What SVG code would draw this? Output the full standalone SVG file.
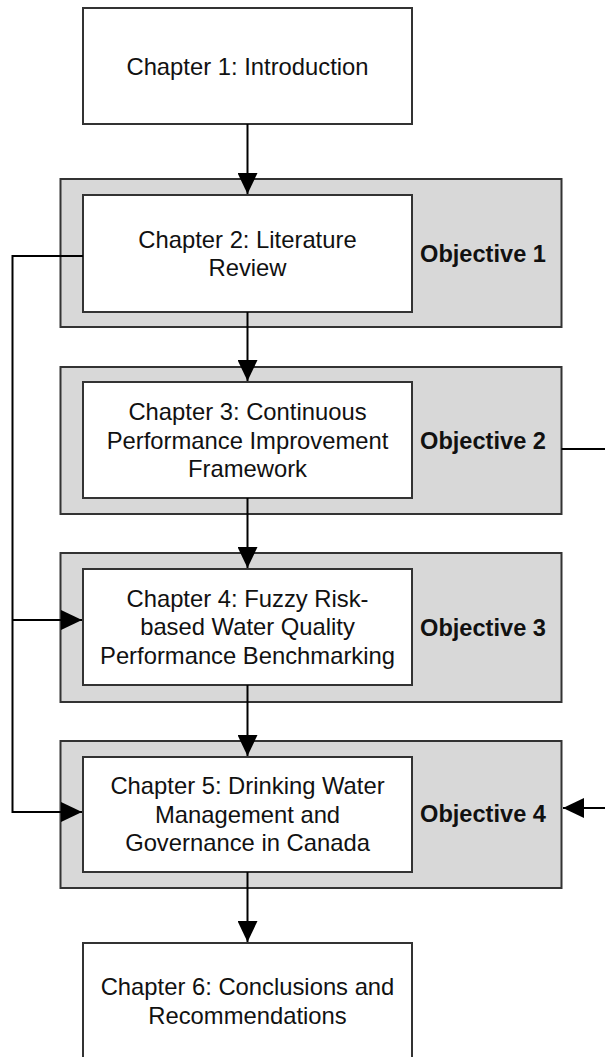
<svg xmlns="http://www.w3.org/2000/svg" width="605" height="1057" viewBox="0 0 605 1057">
  <style>
    .band { fill: #d8d8d8; stroke: #333; stroke-width: 2; }
    .box { fill: #fff; stroke: #333; stroke-width: 2; }
    .label { font-family: "Liberation Sans", Arial, sans-serif; font-size: 23.8px; fill: #111; text-anchor: middle; }
    .obj { font-family: "Liberation Sans", Arial, sans-serif; font-size: 23.6px; font-weight: bold; fill: #111; text-anchor: middle; }
    .wire { fill: none; stroke: #000; stroke-width: 2; }
  </style>
  <defs>
    <marker id="head" markerUnits="userSpaceOnUse" markerWidth="21" markerHeight="20" refX="21" refY="10" orient="auto">
      <path d="M0,0 L21,10 L0,20 z" fill="#000"/>
    </marker>
  </defs>

  <rect width="605" height="1057" fill="#fff"/>

  <!-- objective bands -->
  <g id="objective1">
    <rect class="band" x="60.5" y="179" width="501" height="148"/>
    <text class="obj" x="483" y="262">Objective 1</text>
  </g>
  <g id="objective2">
    <rect class="band" x="60.5" y="367" width="501" height="147"/>
    <text class="obj" x="483" y="448.5">Objective 2</text>
  </g>
  <g id="objective3">
    <rect class="band" x="60.5" y="553" width="501" height="149"/>
    <text class="obj" x="483" y="635.5">Objective 3</text>
  </g>
  <g id="objective4">
    <rect class="band" x="60.5" y="741" width="501" height="147"/>
    <text class="obj" x="483" y="822">Objective 4</text>
  </g>

  <!-- chapter boxes -->
  <g id="chapter1">
    <rect class="box" x="83" y="8" width="329" height="116"/>
    <text class="label" x="247.5" y="74.5">Chapter 1: Introduction</text>
  </g>
  <g id="chapter2">
    <rect class="box" x="83" y="195" width="329" height="117"/>
    <text class="label" x="247.5" y="247.5">Chapter 2: Literature</text>
    <text class="label" x="247.5" y="276">Review</text>
  </g>
  <g id="chapter3">
    <rect class="box" x="83" y="382" width="329" height="116"/>
    <text class="label" x="247.5" y="420">Chapter 3: Continuous</text>
    <text class="label" x="247.5" y="448.5">Performance Improvement</text>
    <text class="label" x="247.5" y="477">Framework</text>
  </g>
  <g id="chapter4">
    <rect class="box" x="83" y="569" width="329" height="116"/>
    <text class="label" x="247.5" y="606.5">Chapter 4: Fuzzy Risk-</text>
    <text class="label" x="247.5" y="635">based Water Quality</text>
    <text class="label" x="247.5" y="663.5">Performance Benchmarking</text>
  </g>
  <g id="chapter5">
    <rect class="box" x="83" y="757" width="329" height="115"/>
    <text class="label" x="247.5" y="794">Chapter 5: Drinking Water</text>
    <text class="label" x="247.5" y="822.5">Management and</text>
    <text class="label" x="247.5" y="851">Governance in Canada</text>
  </g>
  <g id="chapter6">
    <rect class="box" x="83" y="943" width="329" height="117"/>
    <text class="label" x="247.5" y="995">Chapter 6: Conclusions and</text>
    <text class="label" x="247.5" y="1023.5">Recommendations</text>
  </g>

  <!-- connectors -->
  <g id="connectors">
    <path class="wire" d="M247.5,124 V194" marker-end="url(#head)"/>
    <path class="wire" d="M247.5,312 V381" marker-end="url(#head)"/>
    <path class="wire" d="M247.5,498 V568" marker-end="url(#head)"/>
    <path class="wire" d="M247.5,685 V756" marker-end="url(#head)"/>
    <path class="wire" d="M247.5,872 V942" marker-end="url(#head)"/>
    <path class="wire" d="M83,256 H12.5 V812 H82" marker-end="url(#head)"/>
    <path class="wire" d="M12.5,620 H82" marker-end="url(#head)"/>
    <path class="wire" d="M561.5,449 H612 V808 H563" marker-end="url(#head)"/>
  </g>
</svg>
